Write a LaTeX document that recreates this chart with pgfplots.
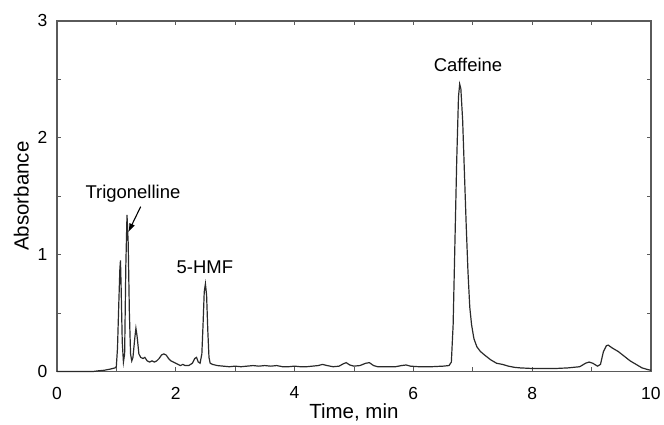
\documentclass[border=0pt]{standalone}
\usepackage{pgfplots}
\pgfplotsset{compat=1.18}
\usetikzlibrary{arrows.meta}
\usepackage{fontspec}
\setmainfont{Liberation Sans}
\definecolor{axisgray}{HTML}{5A5A5A}
\definecolor{trace}{HTML}{2A2A2A}
\begin{document}
\begin{tikzpicture}
\begin{axis}[
    name=ax,
    scale only axis,
    width=595pt, height=351pt,
    xmin=0, xmax=10, ymin=0, ymax=3,
    xtick={0,2,...,10}, minor xtick={1,3,...,9},
    ytick={0,1,2,3}, minor ytick={0.5,1.5,2.5},
    tick align=inside,
    major tick length=4pt, minor tick length=4pt,
    tick style={axisgray, line width=0.8pt},
    axis line style={axisgray, line width=1.3pt},
    every tick label/.append style={font=\fontsize{17.5}{20}\selectfont},
    /pgf/number format/assume math mode=true,
    xticklabel style={yshift=-12pt},
    yticklabel style={xshift=-6pt},
    xlabel={Time, min},
    ylabel={Absorbance},
    label style={font=\fontsize{20.5}{23}\selectfont},
    xlabel style={yshift=2pt},
    ylabel style={yshift=2pt},
    clip=false,
]
\addplot[trace, line width=1.2pt, sharp plot] coordinates {
(0,0) (0.62,0) (0.7,0.005) (0.8,0.01) (0.9,0.02) (0.98,0.03) (1.00,0.04)
(1.02,0.2) (1.04,0.55) (1.06,0.88) (1.07,0.95) (1.08,0.75) (1.10,0.25)
(1.12,0.08) (1.14,0.15) (1.16,0.9) (1.18,1.34) (1.20,1.1) (1.22,0.5)
(1.24,0.15) (1.26,0.09) (1.28,0.12) (1.31,0.28) (1.33,0.37) (1.35,0.3)
(1.38,0.15) (1.41,0.12) (1.45,0.11) (1.48,0.12) (1.52,0.09) (1.56,0.08)
(1.6,0.09) (1.64,0.08) (1.68,0.09) (1.72,0.11) (1.76,0.14) (1.80,0.15)
(1.84,0.14) (1.88,0.11) (1.92,0.09) (1.96,0.08) (2.00,0.07) (2.04,0.06)
(2.08,0.05) (2.12,0.06) (2.16,0.05) (2.22,0.05) (2.28,0.07) (2.32,0.11)
(2.35,0.12) (2.38,0.08) (2.41,0.07) (2.44,0.15) (2.46,0.4) (2.48,0.68)
(2.50,0.75) (2.52,0.65) (2.54,0.35) (2.56,0.12) (2.58,0.07) (2.62,0.06)
(2.7,0.05) (2.8,0.045) (2.9,0.04) (3.0,0.045) (3.1,0.04) (3.2,0.045)
(3.3,0.05) (3.4,0.045) (3.5,0.05) (3.6,0.045) (3.7,0.05) (3.8,0.04)
(3.9,0.04) (4.0,0.045) (4.1,0.04) (4.2,0.04) (4.3,0.045) (4.4,0.05)
(4.47,0.06) (4.55,0.05) (4.65,0.04) (4.75,0.045) (4.82,0.065) (4.87,0.075)
(4.93,0.055) (5.0,0.045) (5.1,0.05) (5.2,0.07) (5.26,0.075) (5.33,0.05)
(5.4,0.04) (5.5,0.04) (5.6,0.04) (5.7,0.04) (5.8,0.05) (5.88,0.055)
(5.95,0.045) (6.1,0.04) (6.3,0.04) (6.5,0.045) (6.6,0.05) (6.64,0.08)
(6.67,0.4) (6.70,1.1) (6.73,1.8) (6.76,2.35) (6.78,2.46) (6.80,2.42)
(6.83,2.15) (6.86,1.7) (6.89,1.25) (6.92,0.85) (6.95,0.55) (6.98,0.4)
(7.02,0.28) (7.07,0.21) (7.13,0.17) (7.2,0.14) (7.3,0.1) (7.4,0.07)
(7.5,0.06) (7.6,0.045) (7.7,0.035) (7.8,0.03) (8.0,0.025) (8.2,0.025)
(8.4,0.025) (8.6,0.03) (8.8,0.04) (8.9,0.07) (8.96,0.08) (9.02,0.07)
(9.1,0.045) (9.15,0.06) (9.2,0.17) (9.25,0.22) (9.28,0.225) (9.35,0.2)
(9.45,0.17) (9.55,0.13) (9.65,0.09) (9.75,0.06) (9.85,0.03) (9.95,0.015)
(10,0.01)
};
% peak labels
\node[font=\fontsize{18.5}{21}\selectfont] at (axis cs:1.28,1.52) {Trigonelline};
\draw[-{Latex[length=9pt,width=6pt]}, line width=1.1pt] (axis cs:1.41,1.41) -- (axis cs:1.20,1.19);
\node[font=\fontsize{18.5}{21}\selectfont] at (axis cs:2.49,0.89) {5-HMF};
\node[font=\fontsize{18.5}{21}\selectfont] at (axis cs:6.92,2.62) {Caffeine};
\end{axis}
\path ([xshift=-57pt,yshift=-53pt]ax.south west) rectangle ([xshift=12pt,yshift=21pt]ax.north east);
\end{tikzpicture}
\end{document}
